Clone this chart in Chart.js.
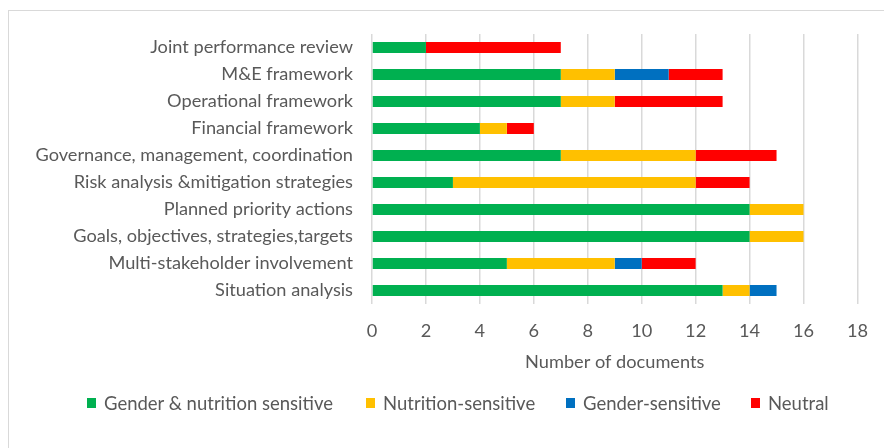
<!DOCTYPE html>
<html>
<head>
<meta charset="utf-8">
<script src="https://cdn.jsdelivr.net/npm/chart.js@4.4.0/dist/chart.umd.min.js"></script>
<style>
  html, body { margin: 0; padding: 0; background: #fff; }
  #wrap { position: relative; width: 884px; height: 448px; overflow: hidden; }
  #frame {
    position: absolute; left: 8px; top: 10px; width: 1000px; height: 1000px;
    border-top: 1.5px solid #d9d9d9; border-left: 1.5px solid #d9d9d9;
    box-sizing: border-box;
  }
  #chart { position: absolute; left: 0; top: 0; }
  .item {
    position: absolute; top: 392px; height: 22px; display: flex; align-items: center;
    font-family: Lato, sans-serif; font-size: 18.5px; color: #595959; white-space: nowrap;
  }
  .box { width: 9px; height: 10px; margin-right: 8px; }
</style>
</head>
<body>
<div id="wrap">
  <div id="frame"></div>
  <canvas id="chart" width="884" height="448"></canvas>
</div>
<script>
// categories, top to bottom as shown
const categories = [
  'Joint performance review',
  'M&E framework',
  'Operational framework',
  'Financial framework',
  'Governance, management, coordination',
  'Risk analysis &mitigation strategies',
  'Planned priority actions',
  'Goals, objectives, strategies,targets',
  'Multi-stakeholder involvement',
  'Situation analysis',
];

const seriesNames = [
  'Gender & nutrition sensitive',
  'Nutrition-sensitive',
  'Gender-sensitive',
  'Neutral',
];
const seriesColors = ['#00B050', '#FFC000', '#0070C0', '#FF0000'];

const genderNutrition = [2, 7, 7, 4, 7, 3, 14, 14, 5, 13];
const nutritionOnly = [0, 2, 2, 1, 5, 9, 2, 2, 4, 1];
const genderOnly = [0, 2, 0, 0, 0, 0, 0, 0, 1, 1];
const neutral = [5, 2, 4, 1, 3, 2, 0, 0, 2, 0];

const xTicks = [0, 2, 4, 6, 8, 10, 12, 14, 16, 18];

const textColor = '#595959';
const fontFamily = 'Lato, sans-serif';
const fontSize = 18.2;

const values = [genderNutrition, nutritionOnly, genderOnly, neutral];

const datasets = values.map((data, i) => ({
  label: seriesNames[i],
  data: data,
  backgroundColor: seriesColors[i],
  borderWidth: 0,
  barPercentage: 0.41,
  categoryPercentage: 1,
}));

new Chart(document.getElementById('chart'), {
  type: 'bar',
  data: { labels: categories, datasets: datasets },
  options: {
    indexAxis: 'y',
    responsive: false,
    animation: false,
    layout: { padding: { top: 34, right: 20, bottom: 75, left: 0 } },
    plugins: { legend: { display: false }, tooltip: { enabled: false } },
    scales: {
      x: {
        stacked: true,
        min: 0,
        max: 18,
        afterBuildTicks: (scale) => {
          scale.ticks = xTicks.map((v) => ({ value: v }));
        },
        afterFit: (scale) => { scale.height = 69; },
        grid: { color: '#d9d9d9', lineWidth: 1.5, drawTicks: false },
        border: { display: false },
        ticks: {
          color: textColor,
          padding: 16,
          font: { family: fontFamily, size: fontSize },
        },
        title: {
          display: true,
          text: 'Number of documents',
          color: textColor,
          padding: 0,
          font: { family: fontFamily, size: fontSize },
        },
      },
      y: {
        stacked: true,
        afterFit: (scale) => { scale.width = 372; },
        grid: { display: false, drawTicks: false },
        border: { display: false },
        ticks: {
          color: textColor,
          padding: 19,
          autoSkip: false,
          font: { family: fontFamily, size: fontSize },
        },
      },
    },
  },
});

// legend built from the same series arrays
const legendLeft = [87, 366, 566, 751];
const wrap = document.getElementById('wrap');
seriesNames.forEach((name, i) => {
  const item = document.createElement('div');
  item.className = 'item';
  item.style.left = legendLeft[i] + 'px';
  const box = document.createElement('span');
  box.className = 'box';
  box.style.background = seriesColors[i];
  const txt = document.createElement('span');
  txt.textContent = name;
  item.appendChild(box);
  item.appendChild(txt);
  wrap.appendChild(item);
});
</script>
</body>
</html>
